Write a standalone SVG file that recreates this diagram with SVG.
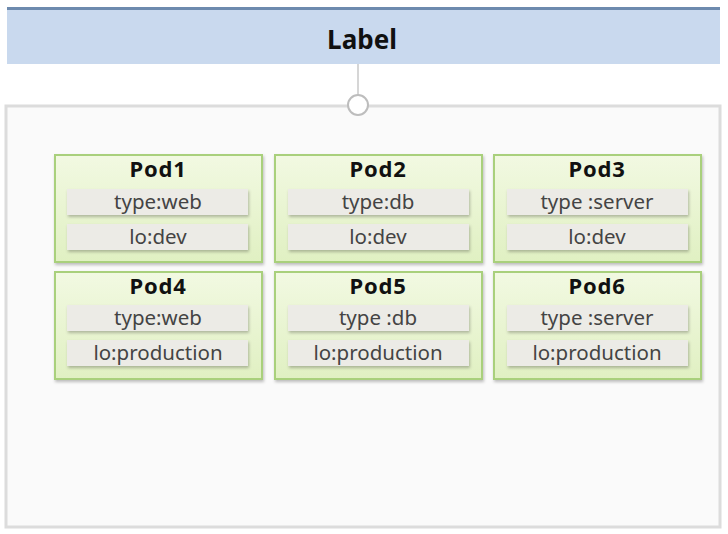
<svg xmlns="http://www.w3.org/2000/svg" width="728" height="534" viewBox="0 0 728 534">
<defs>
<linearGradient id="pg" x1="0" y1="0" x2="0" y2="1">
<stop offset="0" stop-color="#f2f9e2"/>
<stop offset="1" stop-color="#e0f0c2"/>
</linearGradient>
<filter id="sh" x="-10%" y="-10%" width="120%" height="130%">
<feDropShadow dx="1" dy="2" stdDeviation="1.5" flood-color="#000" flood-opacity="0.25"/>
</filter>
<style>
.pod{fill:url(#pg);stroke:#a9d07c;stroke-width:2;filter:url(#sh)}
.tag{fill:#ecebe6;filter:url(#sh)}
.pt{font-family:"Noto Sans","Open Sans",sans-serif;font-weight:bold;font-size:22px;letter-spacing:0.8px;fill:#111;text-anchor:middle}
.tt{font-family:"Noto Sans","Open Sans",sans-serif;font-size:20.5px;fill:#444;text-anchor:middle}
</style>
</defs>
<rect width="728" height="534" fill="#ffffff"/>
<g id="container">
<rect x="6" y="106" width="714" height="421" fill="#fafafa" stroke="#dcdcdc" stroke-width="3"/>
</g>
<g id="header">
<rect x="7" y="8" width="713" height="56" fill="#c9d9ee"/>
<rect x="7" y="7" width="713" height="3" fill="#6d8aae"/>
<text x="362" y="49" font-family="'Noto Sans','Open Sans',sans-serif" font-weight="bold" font-size="26" fill="#111" text-anchor="middle">Label</text>
</g>
<g id="connectors">
<line x1="358" y1="64" x2="358" y2="95" stroke="#c8c8c8" stroke-width="1.5"/>
<circle cx="358" cy="105" r="10" fill="#ffffff" stroke="#bdbdbd" stroke-width="2"/>
</g>
<g id="pod1">
<rect class="pod" x="55" y="155" width="207" height="107"/>
<text class="pt" x="158" y="177">Pod1</text>
<rect class="tag" x="67" y="189" width="181" height="26"/><text class="tt" x="158" y="209">type:web</text>
<rect class="tag" x="67" y="224" width="181" height="26"/><text class="tt" x="158" y="244">lo:dev</text>
</g>
<g id="pod2">
<rect class="pod" x="275" y="155" width="207" height="107"/>
<text class="pt" x="378" y="177">Pod2</text>
<rect class="tag" x="288" y="189" width="181" height="26"/><text class="tt" x="378" y="209">type:db</text>
<rect class="tag" x="288" y="224" width="181" height="26"/><text class="tt" x="378" y="244">lo:dev</text>
</g>
<g id="pod3">
<rect class="pod" x="494" y="155" width="207" height="107"/>
<text class="pt" x="597" y="177">Pod3</text>
<rect class="tag" x="507" y="189" width="181" height="26"/><text class="tt" x="597" y="209">type :server</text>
<rect class="tag" x="507" y="224" width="181" height="26"/><text class="tt" x="597" y="244">lo:dev</text>
</g>
<g id="pod4">
<rect class="pod" x="55" y="272" width="207" height="107"/>
<text class="pt" x="158" y="294">Pod4</text>
<rect class="tag" x="67" y="305" width="181" height="26"/><text class="tt" x="158" y="325">type:web</text>
<rect class="tag" x="67" y="340" width="181" height="26"/><text class="tt" x="158" y="360">lo:production</text>
</g>
<g id="pod5">
<rect class="pod" x="275" y="272" width="207" height="107"/>
<text class="pt" x="378" y="294">Pod5</text>
<rect class="tag" x="288" y="305" width="181" height="26"/><text class="tt" x="378" y="325">type :db</text>
<rect class="tag" x="288" y="340" width="181" height="26"/><text class="tt" x="378" y="360">lo:production</text>
</g>
<g id="pod6">
<rect class="pod" x="494" y="272" width="207" height="107"/>
<text class="pt" x="597" y="294">Pod6</text>
<rect class="tag" x="507" y="305" width="181" height="26"/><text class="tt" x="597" y="325">type :server</text>
<rect class="tag" x="507" y="340" width="181" height="26"/><text class="tt" x="597" y="360">lo:production</text>
</g>
</svg>
